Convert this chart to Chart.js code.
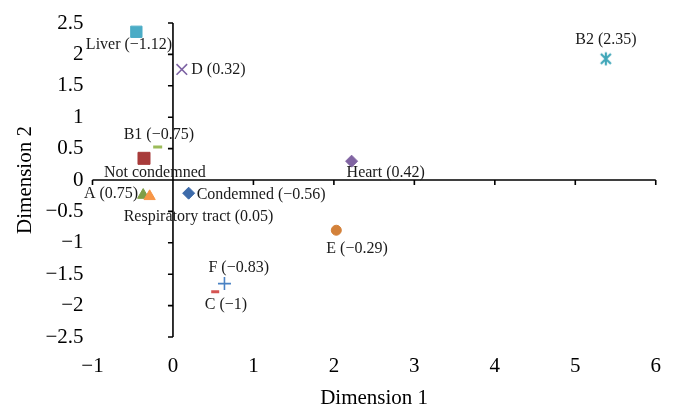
<!DOCTYPE html>
<html>
<head>
<meta charset="utf-8">
<script src="https://cdn.jsdelivr.net/npm/chart.js@4.4.1/dist/chart.umd.min.js"></script>
<style>
  html, body { margin: 0; padding: 0; background: #ffffff; }
  #wrap { width: 678px; height: 418px; position: relative; }
</style>
</head>
<body>
<div id="wrap"><canvas id="c" width="678" height="418"></canvas></div>
<script>
// ---- data ----
const names = ['Liver', 'D', 'B1', 'Not condemned', 'A', 'Respiratory tract', 'Condemned', 'E', 'F', 'C', 'Heart', 'B2'];
const labelTexts = ['Liver (\u22121.12)', 'D (0.32)', 'B1 (\u22120.75)', 'Not condemned', 'A (0.75)', 'Respiratory tract (0.05)', 'Condemned (\u22120.56)', 'E (\u22120.29)', 'F (\u22120.83)', 'C (\u22121)', 'Heart (0.42)', 'B2 (2.35)'];
const dim1 = [-0.455, 0.11, -0.19, -0.36, -0.37, -0.29, 0.195, 2.03, 0.64, 0.525, 2.22, 5.38];
const dim2 = [2.36, 1.76, 0.525, 0.345, -0.24, -0.26, -0.21, -0.80, -1.65, -1.78, 0.30, 1.93];
const xTickValues = [-1, 0, 1, 2, 3, 4, 5, 6];
const yTickValues = [-2.5, -2, -1.5, -1, -0.5, 0, 0.5, 1, 1.5, 2, 2.5];
const xTitle = 'Dimension 1';
const yTitle = 'Dimension 2';

// ---- styles (marker look and label placement, px) ----
function starMarker(color) {
  const c = document.createElement('canvas');
  c.width = 16; c.height = 16;
  const g = c.getContext('2d');
  g.strokeStyle = color; g.lineWidth = 2.2; g.lineCap = 'butt';
  g.beginPath();
  g.moveTo(3, 3); g.lineTo(13, 13);
  g.moveTo(13, 3); g.lineTo(3, 13);
  g.moveTo(8, 1.5); g.lineTo(8, 14.5);
  g.stroke();
  return c;
}
const markerColors = ['#4BACC6', '#7E64A4', '#9BBB59', '#A83B3A', '#7F9E47', '#F79646', '#3D6BAA', '#D3813A', '#4A82C4', '#D55452', '#8064A2', '#3FA6B8'];
const markerStyles = ['rect', 'crossRot', 'line', 'rect', 'triangle', 'triangle', 'rectRot', 'circle', 'cross', 'line', 'rectRot', starMarker('#3FA6B8')];
const markerRadius = [8, 7.5, 4.5, 8.5, 6.5, 6.5, 6, 5, 6.5, 4, 6, 8];
const markerBorder = [1, 1.6, 3, 1, 1, 1, 1, 1, 1.6, 3, 1, 1];
// label offsets from the point: [dx, dy, align]
const labelPlacement = [
  [-50.5, 13, 'left'], [9.5, 0, 'left'], [-34, -12, 'left'], [-40, 14.5, 'left'],
  [-5, -1, 'right'], [-26, 20, 'left'], [8, 1.5, 'left'], [-10, 19, 'left'],
  [-16, -16, 'left'], [-10.5, 13.5, 'left'], [-5, 11.5, 'left'], [-30.5, -19, 'left']
];

const SERIF = '"Liberation Serif", "DejaVu Serif", serif';
const minusFmt = v => String(v).replace('-', '\u2212');

const zeroAxesPlugin = {
  id: 'zeroAxes',
  beforeDatasetsDraw(chart) {
    const {ctx, scales: {x, y}} = chart;
    const x0 = x.getPixelForValue(0);
    const y0 = y.getPixelForValue(0);
    ctx.save();
    ctx.strokeStyle = '#000';
    ctx.lineWidth = 1.6;
    ctx.beginPath();
    ctx.moveTo(x0, y.getPixelForValue(yTickValues[yTickValues.length - 1]));
    ctx.lineTo(x0, y.getPixelForValue(yTickValues[0]));
    ctx.moveTo(x.getPixelForValue(xTickValues[0]), y0);
    ctx.lineTo(x.getPixelForValue(xTickValues[xTickValues.length - 1]), y0);
    yTickValues.forEach(v => {
      const py = y.getPixelForValue(v);
      ctx.moveTo(x0 - 5, py); ctx.lineTo(x0, py);
    });
    xTickValues.forEach(v => {
      const px = x.getPixelForValue(v);
      ctx.moveTo(px, y0); ctx.lineTo(px, y0 + 5);
    });
    ctx.stroke();
    ctx.restore();
  }
};

const pointLabelPlugin = {
  id: 'pointLabels',
  afterDatasetsDraw(chart) {
    const {ctx} = chart;
    const meta = chart.getDatasetMeta(0);
    ctx.save();
    ctx.fillStyle = '#1a1a1a';
    ctx.font = '16px ' + SERIF;
    ctx.textBaseline = 'middle';
    meta.data.forEach((pt, i) => {
      const [dx, dy, align] = labelPlacement[i];
      ctx.textAlign = align;
      ctx.fillText(labelTexts[i], pt.x + dx, pt.y + dy);
    });
    ctx.restore();
  }
};

new Chart(document.getElementById('c'), {
  type: 'scatter',
  data: {
    labels: names,
    datasets: [{
      label: 'Dimensions',
      data: dim1.map((v, i) => ({x: v, y: dim2[i]})),
      pointStyle: markerStyles,
      pointRadius: markerRadius,
      pointHoverRadius: markerRadius,
      pointBackgroundColor: markerColors,
      pointBorderColor: markerColors,
      pointBorderWidth: markerBorder
    }]
  },
  options: {
    responsive: false,
    animation: false,
    events: [],
    layout: { padding: { top: 23, right: 19, left: 0, bottom: 0 } },
    plugins: { legend: { display: false }, tooltip: { enabled: false } },
    scales: {
      x: {
        type: 'linear',
        min: xTickValues[0], max: xTickValues[xTickValues.length - 1],
        afterBuildTicks: s => { s.ticks = xTickValues.map(v => ({value: v})); },
        afterFit: s => { s.height = 81; },
        grid: { display: false, drawTicks: false },
        border: { display: false },
        ticks: { font: { family: SERIF, size: 21 }, color: '#000', padding: 17, maxRotation: 0, callback: minusFmt },
        title: { display: true, text: xTitle, font: { family: SERIF, size: 21 }, color: '#000', padding: { top: 0, bottom: 7 } }
      },
      y: {
        type: 'linear',
        min: yTickValues[0], max: yTickValues[yTickValues.length - 1],
        afterBuildTicks: s => { s.ticks = yTickValues.map(v => ({value: v})); },
        afterFit: s => { s.width = 92.5; },
        grid: { display: false, drawTicks: false },
        border: { display: false },
        ticks: { font: { family: SERIF, size: 21 }, color: '#000', padding: 9, callback: minusFmt },
        title: { display: true, text: yTitle, font: { family: SERIF, size: 21 }, color: '#000', padding: { top: 13, bottom: 0 } }
      }
    }
  },
  plugins: [zeroAxesPlugin, pointLabelPlugin]
});
</script>
</body>
</html>
